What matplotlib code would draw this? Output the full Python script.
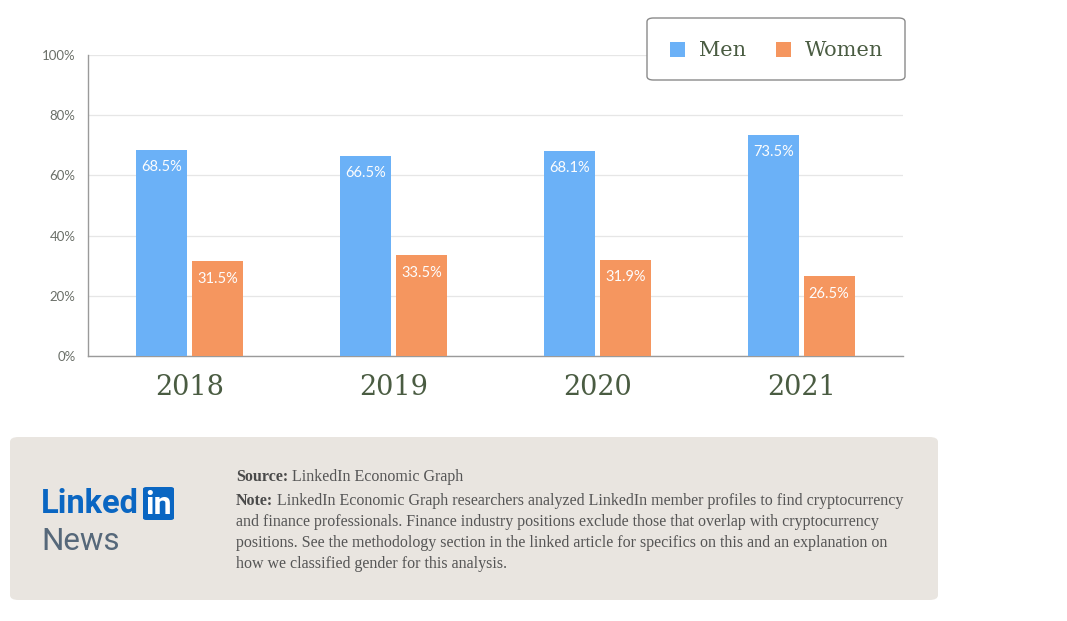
import matplotlib
matplotlib.use("Agg")
import matplotlib.pyplot as plt
from matplotlib.patches import FancyBboxPatch, Rectangle
import numpy as np

years = ["2018", "2019", "2020", "2021"]
men = [68.5, 66.5, 68.1, 73.5]
women = [31.5, 33.5, 31.9, 26.5]
yticks = [0, 20, 40, 60, 80, 100]
series_names = ["Men", "Women"]

MEN_C = "#6bb1f7"
WOMEN_C = "#f5965f"
YEAR_C = "#4a5c42"

fig = plt.figure(figsize=(10.67, 6.21), dpi=100)
fig.patch.set_facecolor("white")

ax = fig.add_axes([88/1067, 1-356/621, (903-88)/1067, (356-55)/621])
x = np.arange(len(years))
w = 0.25
off = 0.137
b1 = ax.bar(x - off, men, w, color=MEN_C, zorder=3)
b2 = ax.bar(x + off, women, w, color=WOMEN_C, zorder=3)
for bars, vals in ((b1, men), (b2, women)):
    for r, v in zip(bars, vals):
        ax.text(r.get_x() + r.get_width()/2, v - 5.8, f"{v}%", ha="center", va="center",
                color="#fdfdfd", fontsize=10.5, family="Lato", zorder=4)

ax.set_xlim(-0.5, 3.5)
ax.set_ylim(0, 100)
ax.set_yticks(yticks)
ax.set_yticklabels([f"{t}%" for t in yticks], family="Lato", fontsize=9.5, color="#6a6f68")
ax.set_xticks(x)
ax.set_xticklabels(years, family="DejaVu Serif", fontsize=19.5, color=YEAR_C)
ax.tick_params(axis="y", length=0, pad=9)
ax.tick_params(axis="x", length=0, pad=13)
ax.grid(axis="y", color="#e6e6e6", linewidth=0.9, zorder=0)
for s in ("top", "right"):
    ax.spines[s].set_visible(False)
ax.spines["left"].set_color("#9a9a9a")
ax.spines["bottom"].set_color("#9a9a9a")
ax.spines["left"].set_linewidth(1.0)
ax.spines["bottom"].set_linewidth(1.0)

def fx(px): return px/1067
def fy(py): return 1 - py/621

# legend box
leg = FancyBboxPatch((fx(647), fy(80)), fx(905)-fx(647), fy(18)-fy(80),
                     boxstyle="round,pad=0,rounding_size=0.006", transform=fig.transFigure,
                     facecolor="white", edgecolor="#8a8a8a", linewidth=1.0, zorder=5)
fig.patches.append(leg)
for (sx, tx, col, name) in ((670, 699, MEN_C, series_names[0]), (776, 805, WOMEN_C, series_names[1])):
    fig.patches.append(Rectangle((fx(sx), fy(57)), fx(15), 15/621, transform=fig.transFigure,
                                 facecolor=col, edgecolor="none", zorder=6))
    fig.text(fx(tx), fy(50), name, family="DejaVu Serif", fontsize=15, color=YEAR_C,
             va="center", ha="left", zorder=7)

# footer panel
foot = FancyBboxPatch((fx(10), fy(600)), fx(938)-fx(10), fy(437)-fy(600),
                      boxstyle="round,pad=0,rounding_size=0.008", transform=fig.transFigure,
                      facecolor="#e9e5e0", edgecolor="none", zorder=1)
fig.patches.append(foot)

fig.text(fx(41), fy(504), "Linked", family="Roboto", fontweight="bold", fontsize=23.5,
         color="#0a66c2", va="center", ha="left")
fig.patches.append(FancyBboxPatch((fx(143), fy(520)), fx(31), 33/621,
                                  boxstyle="round,pad=0,rounding_size=0.003", transform=fig.transFigure,
                                  facecolor="#0a66c2", edgecolor="none", zorder=2))
fig.text(fx(158.5), fy(505), "in", family="Roboto", fontweight="bold", fontsize=23,
         color="white", va="center", ha="center", zorder=3)
fig.text(fx(41), fy(542), "News", family="Roboto", fontsize=22.5, color="#56687a",
         va="center", ha="left")

lines = [
    ("Source:", "LinkedIn Economic Graph"),
    ("Note:", "LinkedIn Economic Graph researchers analyzed LinkedIn member profiles to find cryptocurrency"),
    ("", "and finance professionals. Finance industry positions exclude those that overlap with cryptocurrency"),
    ("", "positions. See the methodology section in the linked article for specifics on this and an explanation on"),
    ("", "how we classified gender for this analysis."),
]
ys = [477, 501, 522, 543, 564]
fig.canvas.draw()
rend = fig.canvas.get_renderer()
for (b, t), yy in zip(lines, ys):
    x0 = fx(236)
    if b:
        tb = fig.text(x0, fy(yy), b, family="Liberation Serif", fontweight="bold", fontsize=11.5,
                      color="#4a4a4a", va="center", ha="left")
        bb = tb.get_window_extent(renderer=rend)
        x0 = (bb.x1 + 4) / fig.bbox.width
    fig.text(x0, fy(yy), t, family="Liberation Serif", fontsize=11.5, color="#555555",
             va="center", ha="left")

fig.savefig("out.png", dpi=100, facecolor="white")
